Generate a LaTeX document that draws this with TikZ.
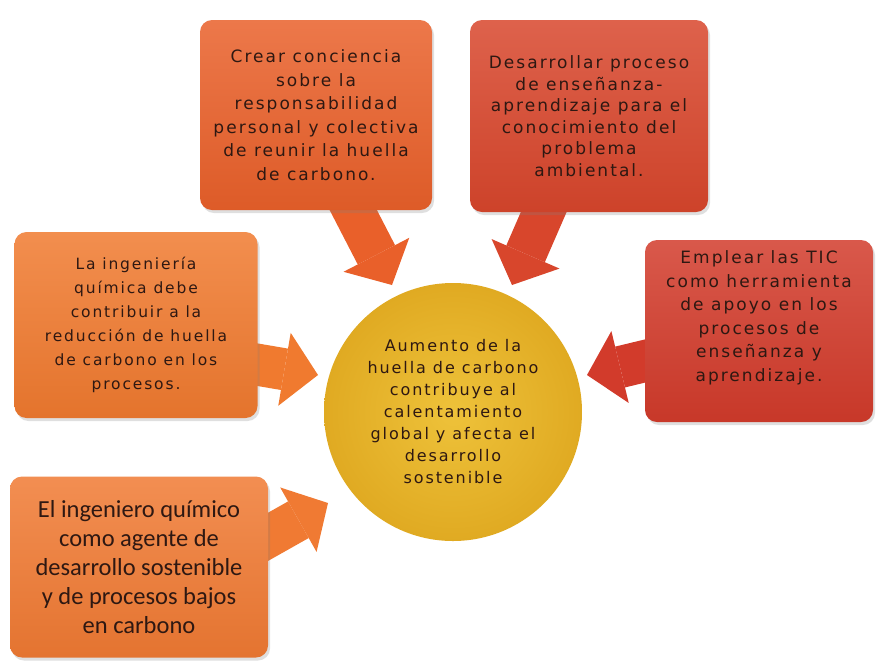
\documentclass[tikz,border=0pt]{standalone}
\usepackage{fontspec}
\setmainfont{DejaVu Sans}
\newfontfamily\pixfont{DejaVu Sans}[LetterSpace=12]
\newfontfamily\calfont{Carlito}
\usetikzlibrary{arrows.meta,shadows,backgrounds}

\definecolor{txtdark}{HTML}{2E1812}
\definecolor{boxA}{HTML}{E9602A}
\definecolor{boxB}{HTML}{D8462C}
\definecolor{boxC}{HTML}{F07A2F}
\definecolor{boxD}{HTML}{D23B2B}
\definecolor{boxE}{HTML}{F07A33}
\definecolor{hubIn}{HTML}{EEC23A}
\definecolor{hubOut}{HTML}{E0AA22}

\begin{document}
\begin{tikzpicture}[x=1pt,y=-1pt,
  card/.style={rounded corners=12pt, inner sep=4pt, align=center, text=txtdark,
    font=\pixfont\fontsize{17}{23.5}\selectfont,
    drop shadow={opacity=0.25, shadow xshift=2pt, shadow yshift=-3pt}},
  blockarrow/.style={line width=42pt,
    -{Triangle[length=34pt, width=74pt, line width=0pt]}},
  hub/.style={circle, inner sep=0pt, minimum size=258pt, align=center, text=txtdark,
    inner color=hubIn, outer color=hubOut,
    font=\pixfont\fontsize{16}{22}\selectfont}
]
\useasboundingbox (0,0) rectangle (877,662);

% central circle
\node[hub] (hub) at (453,412) {Aumento de la\\huella de carbono\\contribuye al\\calentamiento\\global y afecta el\\desarrollo\\sostenible};

% the five cards
\node[card, top color=boxA!85!white, bottom color=boxA!95!black,
  minimum width=232pt, minimum height=190pt] (b1) at (316,115)
  {Crear conciencia\\sobre la\\responsabilidad\\personal y colectiva\\de reunir la huella\\de carbono.};
\node[card, top color=boxB!85!white, bottom color=boxB!95!black,
  font=\pixfont\fontsize{17}{21.5}\selectfont,
  minimum width=238pt, minimum height=192pt] (b2) at (589,116)
  {Desarrollar proceso\\de enseñanza-\\aprendizaje para el\\conocimiento del\\problema\\ambiental.};
\node[card, top color=boxC!85!white, bottom color=boxC!95!black,
  font=\pixfont\fontsize{15.5}{24}\selectfont,
  minimum width=243pt, minimum height=186pt] (b3) at (136,325)
  {La ingeniería\\química debe\\contribuir a la\\reducción de huella\\de carbono en los\\procesos.};
\node[card, top color=boxD!85!white, bottom color=boxD!95!black,
  minimum width=228pt, minimum height=182pt] (b4) at (759,331)
  {Emplear las TIC\\como herramienta\\de apoyo en los\\procesos de\\enseñanza y\\aprendizaje.\\[6pt]};
\node[card, top color=boxE!85!white, bottom color=boxE!95!black,
  font=\calfont\fontsize{24.5}{29}\selectfont,
  minimum width=258pt, minimum height=181pt] (b5) at (139,567)
  {El ingeniero químico\\como agente de\\desarrollo sostenible\\y de procesos bajos\\en carbono};

% arrow ends: start inside each card, tip just short of the circle
\coordinate (s1) at (346,196);  \coordinate (t1) at (392,285);
\coordinate (s2) at (552,193);  \coordinate (t2) at (512,285);
\coordinate (s3) at (230,360);  \coordinate (t3) at (318,375);
\coordinate (s4) at (674,354);  \coordinate (t4) at (587,375);
\coordinate (s5) at (250,547);  \coordinate (t5) at (328,503);

\begin{scope}[on background layer]
  \fill[white] (0,0) rectangle (877,662);
  \draw[blockarrow, draw=boxA, fill=boxA] (s1) -- (t1);
  \draw[blockarrow, draw=boxB, fill=boxB] (s2) -- (t2);
  \draw[blockarrow, draw=boxC, fill=boxC] (s3) -- (t3);
  \draw[blockarrow, draw=boxD, fill=boxD] (s4) -- (t4);
  \draw[blockarrow, draw=boxE, fill=boxE] (s5) -- (t5);
\end{scope}
\end{tikzpicture}
\end{document}
